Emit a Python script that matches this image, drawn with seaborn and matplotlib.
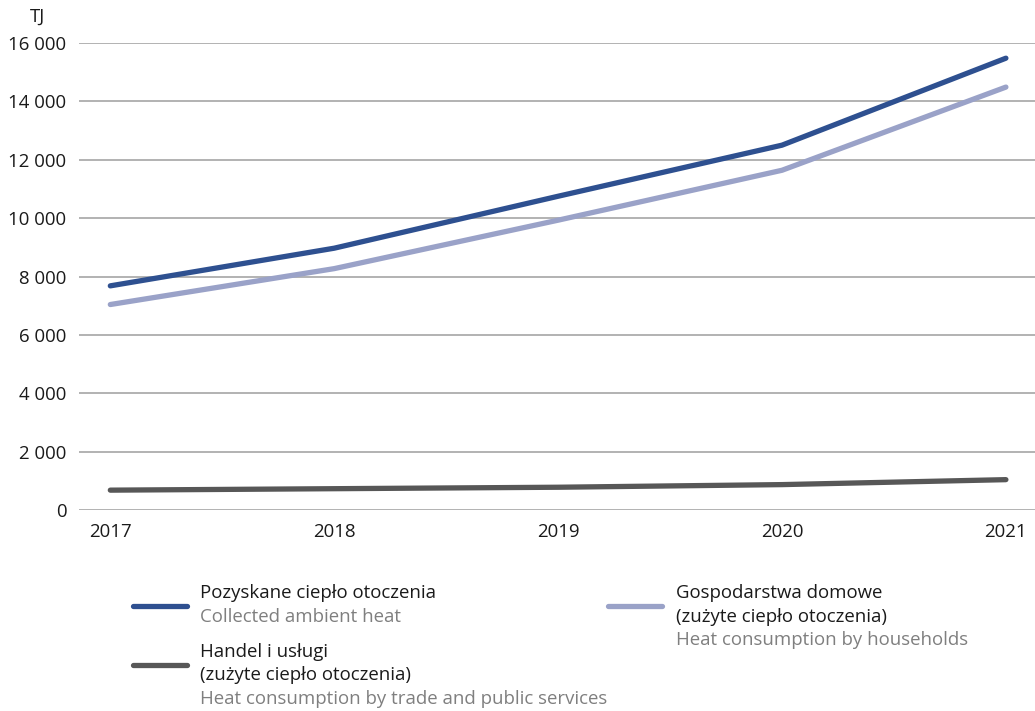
import numpy as np
import pandas as pd
import matplotlib.pyplot as plt
import seaborn as sns
from matplotlib.lines import Line2D
from matplotlib.ticker import FuncFormatter

years = [2017, 2018, 2019, 2020, 2021]
collected = [7680, 8970, 10750, 12500, 15480]
households = [7040, 8270, 9930, 11640, 14490]
trade = [680, 730, 780, 870, 1040]

series_pl = ["Pozyskane ciepło otoczenia",
             "Gospodarstwa domowe\n(zużyte ciepło otoczenia)",
             "Handel i usługi\n(zużyte ciepło otoczenia)"]
series_en = ["Collected ambient heat",
             "Heat consumption by households",
             "Heat consumption by trade and public services"]
colors = ["#2e5090", "#9aa2c8", "#575757"]

df = pd.DataFrame({
    "year": years * 3,
    "value": collected + households + trade,
    "series": [series_pl[0]] * 5 + [series_pl[1]] * 5 + [series_pl[2]] * 5,
})

sns.set_theme(style="white")
plt.rcParams["font.family"] = ["Open Sans", "DejaVu Sans"]
FS = 13.4

fig = plt.figure(figsize=(10.35, 7.11), dpi=100)
ax = fig.add_axes([0.0763, 0.2827, 1 - 0.0763, 0.9395 - 0.2827])

sns.lineplot(data=df, x="year", y="value", hue="series", palette=colors,
             linewidth=3.8, legend=False, ax=ax, solid_capstyle="round")

ax.set_xlim(2016.86, 2021.13)
ax.set_ylim(0, 16000)
ax.set_yticks(np.arange(0, 16001, 2000))
ax.set_xticks(years)
ax.yaxis.set_major_formatter(FuncFormatter(lambda v, _: f"{int(v):,}".replace(",", " ")))
ax.grid(axis="y", color="#a6a6a6", linewidth=1.2)
ax.set_axisbelow(True)
for s in ax.spines.values():
    s.set_visible(False)
ax.tick_params(axis="both", length=0, labelsize=FS, colors="#1a1a1a")
ax.tick_params(axis="y", pad=9)
ax.tick_params(axis="x", pad=9)
ax.set_xlabel("")
ax.set_ylabel("")
fig.text(38 / 1035, 1 - 17 / 711, "TJ", fontsize=FS, color="#1a1a1a",
         ha="center", va="center")

# legend below the chart
def legend_item(x_line, y_line, x_text, lines_pl, line_en, color):
    W, H = 1035, 711
    fig.add_artist(Line2D([x_line / W, (x_line + 54) / W],
                          [1 - y_line / H, 1 - y_line / H],
                          color=color, linewidth=3.8, solid_capstyle="round"))
    y = y_line - 13
    for t in lines_pl:
        fig.text(x_text / W, 1 - y / H, t, fontsize=FS, color="#1a1a1a",
                 va="center", ha="left")
        y += 23.5
    fig.text(x_text / W, 1 - y / H, line_en, fontsize=FS, color="#7f7f7f",
             va="center", ha="left")

legend_item(133, 606, 200, series_pl[0].split("\n"), series_en[0], colors[0])
legend_item(608, 606, 676, series_pl[1].split("\n"), series_en[1], colors[1])
legend_item(133, 665, 200, series_pl[2].split("\n"), series_en[2], colors[2])

fig.savefig("out.png", dpi=100)
